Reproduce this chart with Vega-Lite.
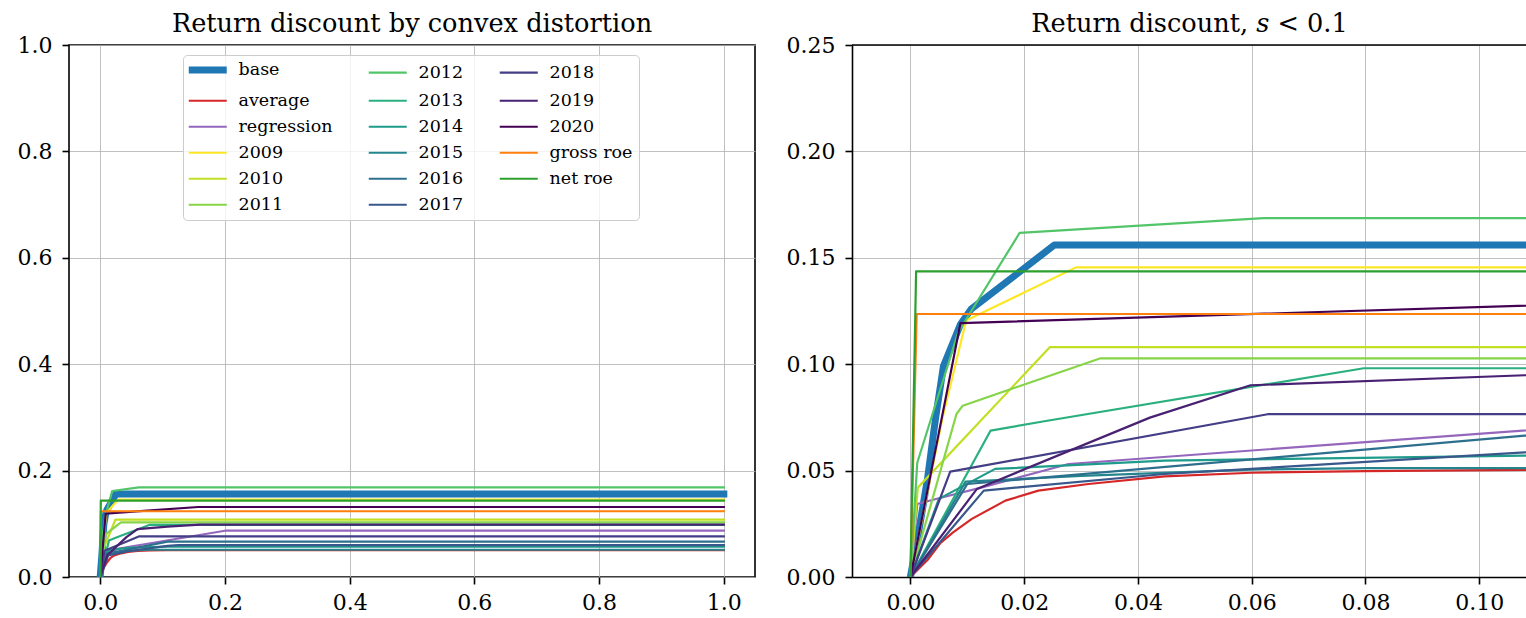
{
  "$schema": "https://vega.github.io/schema/vega-lite/v6.json",
  "padding": {"left": 16, "top": 11, "right": 0, "bottom": 0},
  "spacing": 30,
  "datasets": {
    "d": [
      {"series": "base", "s": 0, "v": 0}, {"series": "base", "s": 0.0015, "v": 0.022}, {"series": "base", "s": 0.003, "v": 0.046}, {"series": "base", "s": 0.0044, "v": 0.0742}, {"series": "base", "s": 0.0058, "v": 0.099}, {"series": "base", "s": 0.0088, "v": 0.1188}, {"series": "base", "s": 0.0107, "v": 0.1259}, {"series": "base", "s": 0.0253, "v": 0.156}, {"series": "base", "s": 1, "v": 0.156},
      {"series": "average", "s": 0, "v": 0}, {"series": "average", "s": 0.003, "v": 0.008}, {"series": "average", "s": 0.0053, "v": 0.016}, {"series": "average", "s": 0.0075, "v": 0.021}, {"series": "average", "s": 0.0108, "v": 0.0273}, {"series": "average", "s": 0.0167, "v": 0.0359}, {"series": "average", "s": 0.0225, "v": 0.0406}, {"series": "average", "s": 0.0313, "v": 0.0437}, {"series": "average", "s": 0.0447, "v": 0.0473}, {"series": "average", "s": 0.06, "v": 0.049}, {"series": "average", "s": 0.08, "v": 0.0498}, {"series": "average", "s": 0.108, "v": 0.0503}, {"series": "average", "s": 0.2, "v": 0.0505}, {"series": "average", "s": 1, "v": 0.0505},
      {"series": "regression", "s": 0, "v": 0}, {"series": "regression", "s": 0.0012, "v": 0.0343}, {"series": "regression", "s": 0.005, "v": 0.037}, {"series": "regression", "s": 0.0126, "v": 0.0421}, {"series": "regression", "s": 0.0278, "v": 0.0531}, {"series": "regression", "s": 0.2, "v": 0.087}, {"series": "regression", "s": 1, "v": 0.087},
      {"series": "2009", "s": 0, "v": 0}, {"series": "2009", "s": 0.0056, "v": 0.0742}, {"series": "2009", "s": 0.0098, "v": 0.1205}, {"series": "2009", "s": 0.0291, "v": 0.1455}, {"series": "2009", "s": 1, "v": 0.1455},
      {"series": "2010", "s": 0, "v": 0}, {"series": "2010", "s": 0.0013, "v": 0.042}, {"series": "2010", "s": 0.0245, "v": 0.108}, {"series": "2010", "s": 1, "v": 0.108},
      {"series": "2011", "s": 0, "v": 0}, {"series": "2011", "s": 0.0081, "v": 0.0766}, {"series": "2011", "s": 0.0092, "v": 0.0805}, {"series": "2011", "s": 0.0333, "v": 0.1027}, {"series": "2011", "s": 1, "v": 0.1027},
      {"series": "2012", "s": 0, "v": 0}, {"series": "2012", "s": 0.0012, "v": 0.0537}, {"series": "2012", "s": 0.0084, "v": 0.115}, {"series": "2012", "s": 0.0192, "v": 0.1617}, {"series": "2012", "s": 0.0621, "v": 0.1686}, {"series": "2012", "s": 1, "v": 0.1686},
      {"series": "2013", "s": 0, "v": 0}, {"series": "2013", "s": 0.0141, "v": 0.0688}, {"series": "2013", "s": 0.0238, "v": 0.0733}, {"series": "2013", "s": 0.0797, "v": 0.0981}, {"series": "2013", "s": 1, "v": 0.0981},
      {"series": "2014", "s": 0, "v": 0}, {"series": "2014", "s": 0.005, "v": 0.0367}, {"series": "2014", "s": 0.0149, "v": 0.0508}, {"series": "2014", "s": 0.0447, "v": 0.0547}, {"series": "2014", "s": 0.108, "v": 0.057}, {"series": "2014", "s": 0.13, "v": 0.0572}, {"series": "2014", "s": 1, "v": 0.0572},
      {"series": "2015", "s": 0, "v": 0}, {"series": "2015", "s": 0.0097, "v": 0.0448}, {"series": "2015", "s": 0.03, "v": 0.0475}, {"series": "2015", "s": 0.06, "v": 0.0505}, {"series": "2015", "s": 0.08, "v": 0.0512}, {"series": "2015", "s": 1, "v": 0.0512},
      {"series": "2016", "s": 0, "v": 0}, {"series": "2016", "s": 0.01, "v": 0.0437}, {"series": "2016", "s": 0.108, "v": 0.0664}, {"series": "2016", "s": 0.115, "v": 0.0665}, {"series": "2016", "s": 1, "v": 0.0665},
      {"series": "2017", "s": 0, "v": 0}, {"series": "2017", "s": 0.0129, "v": 0.0406}, {"series": "2017", "s": 0.0447, "v": 0.0484}, {"series": "2017", "s": 0.108, "v": 0.0586}, {"series": "2017", "s": 0.125, "v": 0.06}, {"series": "2017", "s": 1, "v": 0.06},
      {"series": "2018", "s": 0, "v": 0}, {"series": "2018", "s": 0.007, "v": 0.0495}, {"series": "2018", "s": 0.0628, "v": 0.0765}, {"series": "2018", "s": 1, "v": 0.0765},
      {"series": "2019", "s": 0, "v": 0}, {"series": "2019", "s": 0.0117, "v": 0.0414}, {"series": "2019", "s": 0.0421, "v": 0.0749}, {"series": "2019", "s": 0.0598, "v": 0.0901}, {"series": "2019", "s": 0.108, "v": 0.0948}, {"series": "2019", "s": 0.16, "v": 0.0985}, {"series": "2019", "s": 1, "v": 0.0985},
      {"series": "2020", "s": 0, "v": 0}, {"series": "2020", "s": 0.0088, "v": 0.1193}, {"series": "2020", "s": 0.157, "v": 0.1316}, {"series": "2020", "s": 1, "v": 0.1316},
      {"series": "gross roe", "s": 0, "v": 0}, {"series": "gross roe", "s": 0.0011, "v": 0.1236}, {"series": "gross roe", "s": 1, "v": 0.1236},
      {"series": "net roe", "s": 0, "v": 0}, {"series": "net roe", "s": 0.001, "v": 0.1436}, {"series": "net roe", "s": 1, "v": 0.1436}
    ]
  },
  "hconcat": [
    {
      "title": "Return discount by convex distortion",
      "width": 686,
      "height": 532,
      "view": {"stroke": "black", "strokeWidth": 1.6},
      "data": {"name": "d"},
      "mark": {"type": "line", "strokeCap": "square", "strokeJoin": "round", "clip": true},
      "encoding": {
        "x": {"field": "s", "type": "quantitative", "scale": {"domain": [-0.05, 1.05], "nice": false, "zero": false},
              "axis": {"values": [0, 0.2, 0.4, 0.6, 0.8, 1.0], "format": ".1f", "domain": false, "labelPadding": 8}},
        "y": {"field": "v", "type": "quantitative", "scale": {"domain": [0, 1], "nice": false},
              "axis": {"values": [0, 0.2, 0.4, 0.6, 0.8, 1.0], "format": ".1f", "domain": false, "labelPadding": 10}},
        "color": {
          "field": "series", "type": "nominal",
          "scale": {
            "domain": ["base", "average", "regression", "2009", "2010", "2011", "2012", "2013", "2014", "2015", "2016", "2017", "2018", "2019", "2020", "gross roe", "net roe"],
            "range": ["#1f77b4", "#d62728", "#9467bd", "#fde725", "#c2df23", "#86d549", "#52c569", "#2ab07f", "#1e9b8a", "#25858e", "#2d708e", "#38588c", "#433e85", "#482173", "#440154", "#ff7f0e", "#2ca02c"]
          },
          "legend": {
            "title": null, "orient": "none", "legendX": 114, "legendY": 10, "columns": 3,
            "symbolType": "stroke", "symbolSize": 1444, "symbolStrokeWidth": 2.2, "symbolOffset": 10,
            "labelFont": "DejaVu Serif", "labelFontSize": 17.5, "labelColor": "black", "labelOffset": 22,
            "columnPadding": 31, "rowPadding": 7, "padding": 6,
            "fillColor": "rgba(255,255,255,0.8)", "strokeColor": "#cccccc", "cornerRadius": 4,
            "encode": {"symbols": {"update": {"strokeWidth": {"signal": "datum.value === 'base' ? 7 : 2.2"}}}}
          }
        },
        "strokeWidth": {"condition": {"test": "datum.series === 'base'", "value": 7}, "value": 2.2}
      }
    },
    {
      "title": "Return discount, 𝑠 < 0.1",
      "width": 675,
      "height": 532,
      "data": {"name": "d"},
      "layer": [
        {
          "mark": {"type": "line", "strokeCap": "square", "strokeJoin": "round", "clip": true},
          "encoding": {
            "x": {"field": "s", "type": "quantitative", "scale": {"domain": [-0.01027, 0.1084], "nice": false, "zero": false},
                  "axis": {"values": [0, 0.02, 0.04, 0.06, 0.08, 0.1], "format": ".2f", "labelPadding": 8}},
            "y": {"field": "v", "type": "quantitative", "scale": {"domain": [0, 0.25], "nice": false},
                  "axis": {"values": [0, 0.05, 0.1, 0.15, 0.2, 0.25], "format": ".2f", "labelPadding": 10}},
            "color": {"field": "series", "type": "nominal", "legend": null},
            "strokeWidth": {"condition": {"test": "datum.series === 'base'", "value": 7}, "value": 2.2}
          }
        },
        {
          "data": {"values": [{}]},
          "mark": {"type": "rule", "color": "black", "strokeWidth": 1.6},
          "encoding": {"y": {"datum": 0.25}}
        }
      ]
    }
  ],
  "config": {
    "font": "DejaVu Serif",
    "view": {"stroke": null},
    "axis": {
      "labelFont": "DejaVu Serif", "labelFontSize": 22, "labelColor": "black",
      "tickColor": "black", "tickSize": 7, "tickWidth": 1.6,
      "domainColor": "black", "domainWidth": 1.6,
      "gridColor": "#b0b0b0", "gridWidth": 0.8, "title": null
    },
    "title": {"font": "DejaVu Serif", "fontSize": 25.6, "fontWeight": "normal", "color": "black", "offset": -4}
  }
}
